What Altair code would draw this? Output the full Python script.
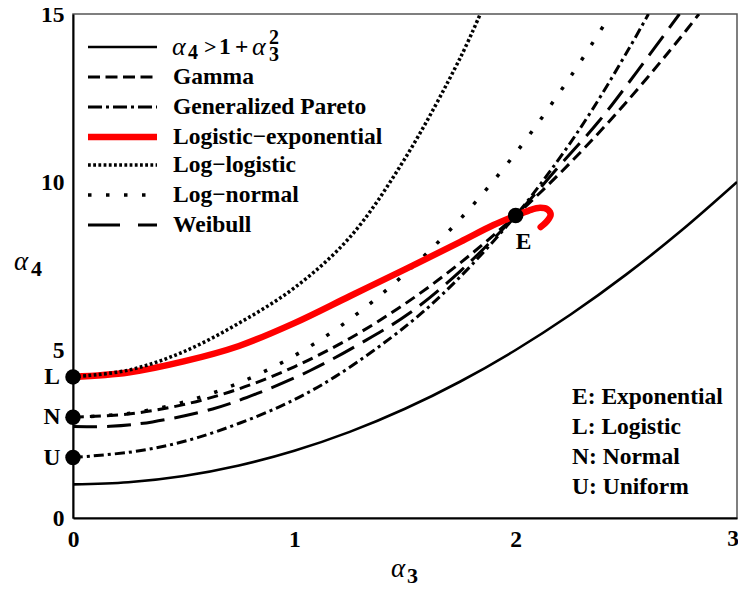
import altair as alt
import pandas as pd

# ---- data ----
bound_x = [0, 0.25, 0.5, 0.75, 1.0, 1.25, 1.5, 1.75, 2.0, 2.25, 2.5, 2.75, 3.0]
bound_y = [1.0, 1.0625, 1.25, 1.5625, 2.0, 2.5625, 3.25, 4.0625, 5.0, 6.0625, 7.25, 8.5625, 10.0]

gamma_x = [0, 0.25, 0.5, 0.75, 1.0, 1.25, 1.5, 1.75, 2.0, 2.25, 2.5, 2.75, 2.828]
gamma_y = [3.0, 3.094, 3.375, 3.844, 4.5, 5.344, 6.375, 7.594, 9.0, 10.594, 12.375, 14.344, 15.0]

gpd_x = [0, 0.3, 0.566, 0.932, 1.183, 1.517, 1.733, 2.0, 2.195, 2.344, 2.512, 2.6]
gpd_y = [1.8, 2.0, 2.4, 3.31, 4.2, 5.78, 7.07, 9.0, 10.68, 12.13, 13.97, 15.0]

logexp_x = [0, 0.25, 0.5, 0.75, 1.0, 1.25, 1.5, 1.75, 1.9, 2.0, 2.06, 2.11, 2.145, 2.158, 2.14, 2.113]
logexp_y = [4.2, 4.33, 4.66, 5.12, 5.8, 6.6, 7.4, 8.22, 8.72, 9.0, 9.15, 9.23, 9.18, 9.02, 8.82, 8.66]

loglog_x = [0, 0.25, 0.5, 0.75, 1.0, 1.25, 1.5, 1.75, 1.84]
loglog_y = [4.2, 4.4, 4.95, 5.8, 6.85, 8.35, 10.7, 13.7, 15.0]

lognorm_x = [0, 0.25, 0.5, 0.75, 1.0, 1.25, 1.5, 1.75, 2.0, 2.25, 2.4]
lognorm_y = [3.0, 3.11, 3.45, 4.02, 4.83, 5.91, 7.27, 8.9, 10.86, 13.16, 14.68]

weib_x = [0, 0.168, 0.359, 0.631, 0.83, 1.072, 1.3, 1.521, 1.75, 2.0, 2.2, 2.375, 2.55, 2.74]
weib_y = [2.72, 2.73, 2.86, 3.245, 3.7, 4.39, 5.2, 6.1, 7.35, 9.0, 10.5, 11.8, 13.3, 15.0]

pt_x = [0, 0, 0, 2]
pt_y = [4.2, 3.0, 1.8, 9.0]
pt_lab = ["L", "N", "U", "E"]

x_ticks = [0, 1, 2, 3]
y_ticks = [0, 5, 10, 15]

legend_labels = ["Gamma", "Generalized Pareto", "Logistic\u2212exponential",
                 "Log\u2212logistic", "Log\u2212normal", "Weibull"]
note_labels = ["E: Exponential", "L: Logistic", "N: Normal", "U: Uniform"]

SERIF = "Liberation Serif"
FS = 23.5

xscale = alt.Scale(domain=[0, 3], nice=False, zero=False)
yscale = alt.Scale(domain=[0, 15], nice=False, zero=False)
# last x tick label ("3") is drawn as a right-aligned text so it stays inside the page
xaxis = alt.Axis(values=x_ticks[:-1], title=None, grid=False, ticks=False,
                 labelFont=SERIF, labelFontWeight="bold", labelFontSize=FS,
                 labelPadding=9, domainColor="black", domainWidth=2,
                 labelColor="black", labelFlush=False)
yaxis = alt.Axis(values=y_ticks, title=None, grid=False, ticks=False,
                 labelFont=SERIF, labelFontWeight="bold", labelFontSize=FS,
                 labelPadding=9, domainColor="black", domainWidth=2,
                 labelColor="black", labelFlush=False)


def curve(xs, ys, color="black", width=2.6, dash=None, cap="butt"):
    df = pd.DataFrame({"a3": xs, "a4": ys, "o": list(range(len(xs)))})
    kw = dict(color=color, strokeWidth=width, interpolate="catmull-rom",
              strokeCap=cap, clip=True)
    if dash:
        kw["strokeDash"] = dash
    return alt.Chart(df).mark_line(**kw).encode(
        x=alt.X("a3:Q", scale=xscale, axis=xaxis),
        y=alt.Y("a4:Q", scale=yscale, axis=yaxis),
        order="o:Q",
    )


one = pd.DataFrame({"k": [0]})

DASH_GAMMA = [11, 6]
DASH_GPD = [10, 4, 3, 4]
DASH_LOGLOG = [2.8, 2.4]
DASH_LOGNORM = [3.5, 14.5]
DASH_WEIB = [24, 10]

layers = [
    curve(bound_x, bound_y),
    curve(gamma_x, gamma_y, dash=DASH_GAMMA, width=3),
    curve(gpd_x, gpd_y, dash=DASH_GPD, width=3),
    curve(weib_x, weib_y, dash=DASH_WEIB, width=3),
    curve(lognorm_x, lognorm_y, width=3.5, dash=DASH_LOGNORM),
    curve(logexp_x, logexp_y, color="#f00", width=6.5, cap="round"),
    curve(loglog_x, loglog_y, width=3.5, dash=DASH_LOGLOG),
]

# points and labels
pts = pd.DataFrame({"a3": pt_x, "a4": pt_y, "lab": pt_lab})
layers.append(alt.Chart(pts).mark_circle(size=240, color="black", opacity=1).encode(
    x=alt.X("a3:Q", scale=xscale, axis=xaxis), y=alt.Y("a4:Q", scale=yscale, axis=yaxis)))
lnu = pts[pts["lab"] != "E"]
layers.append(alt.Chart(lnu).mark_text(font=SERIF, fontWeight="bold", fontSize=FS,
                                       color="black", align="center", baseline="middle").encode(
    x=alt.value(-21), y=alt.Y("a4:Q", scale=yscale, axis=yaxis), text="lab:N"))
e_df = pts[pts["lab"] == "E"]
layers.append(alt.Chart(e_df).mark_text(font=SERIF, fontWeight="bold", fontSize=FS,
                                        color="black", align="center", baseline="middle",
                                        dx=8, dy=26).encode(
    x=alt.X("a3:Q", scale=xscale, axis=xaxis), y=alt.Y("a4:Q", scale=yscale, axis=yaxis),
    text="lab:N"))

# last x tick label
last_df = pd.DataFrame({"a3": [x_ticks[-1]], "t": [str(x_ticks[-1])]})
layers.append(alt.Chart(last_df).mark_text(font=SERIF, fontWeight="bold", fontSize=FS,
                                           color="black", align="right", baseline="top",
                                           dx=2).encode(
    x=alt.X("a3:Q", scale=xscale, axis=xaxis), y=alt.value(513), text="t:N"))

# manual legend
row_y = [33, 63, 93, 123, 151, 181, 211]
LX1, LX2, TX = 15, 84, 100
leg_styles = [
    dict(color="black", strokeWidth=2.6),
    dict(color="black", strokeWidth=3, strokeDash=[12, 5.5]),
    dict(color="black", strokeWidth=3, strokeDash=[14, 4, 3, 4]),
    dict(color="#f00", strokeWidth=6.5),
    dict(color="black", strokeWidth=3.5, strokeDash=[2.8, 2.4]),
    dict(color="black", strokeWidth=3.5, strokeDash=[3.5, 14.5]),
    dict(color="black", strokeWidth=3, strokeDash=[32, 18]),
]
for yy, st in zip(row_y, leg_styles):
    layers.append(alt.Chart(one).mark_rule(**st).encode(
        x=alt.value(LX1), x2=alt.value(LX2), y=alt.value(yy)))


def txt(t, x, y, size=FS, style="normal", weight="bold", align="left"):
    return alt.Chart(one).mark_text(text=t, font=SERIF, fontWeight=weight, fontStyle=style,
                                    fontSize=size, color="black", align=align,
                                    baseline="middle").encode(x=alt.value(x), y=alt.value(y))


for t, yy in zip(legend_labels, row_y[1:]):
    layers.append(txt(t, TX, yy))

# first legend entry: alpha_4 > 1 + alpha_3^2
layers += [
    txt("\u03b1", 99, 33, size=26, style="italic", weight="normal"),
    txt("4", 115, 39, size=20),
    txt(">", 131, 33, size=22),
    txt("1", 146, 33, size=FS),
    txt("+", 162, 33, size=FS),
    txt("\u03b1", 179, 33, size=26, style="italic", weight="normal"),
    txt("2", 196, 24, size=20),
    txt("3", 196, 41, size=20),
]

# notes box
for t, yy in zip(note_labels, [383, 413, 443, 473]):
    layers.append(txt(t, 499, yy))

# axis titles
layers += [
    txt("\u03b1", 318, 555, size=27, style="italic", weight="normal"),
    txt("3", 334, 562, size=22),
    txt("\u03b1", -59, 248, size=27, style="italic", weight="normal"),
    txt("4", -42, 255, size=22),
]

chart = alt.layer(*layers).properties(
    width=664, height=504,
    padding={"left": 65, "top": 6, "right": 1, "bottom": 70},
    autosize=alt.AutoSizeParams(type="none"),
    background="white",
).configure_view(stroke="#555", strokeWidth=1.5)

chart.save("out.html", embed_options={"renderer": "svg", "actions": False})
